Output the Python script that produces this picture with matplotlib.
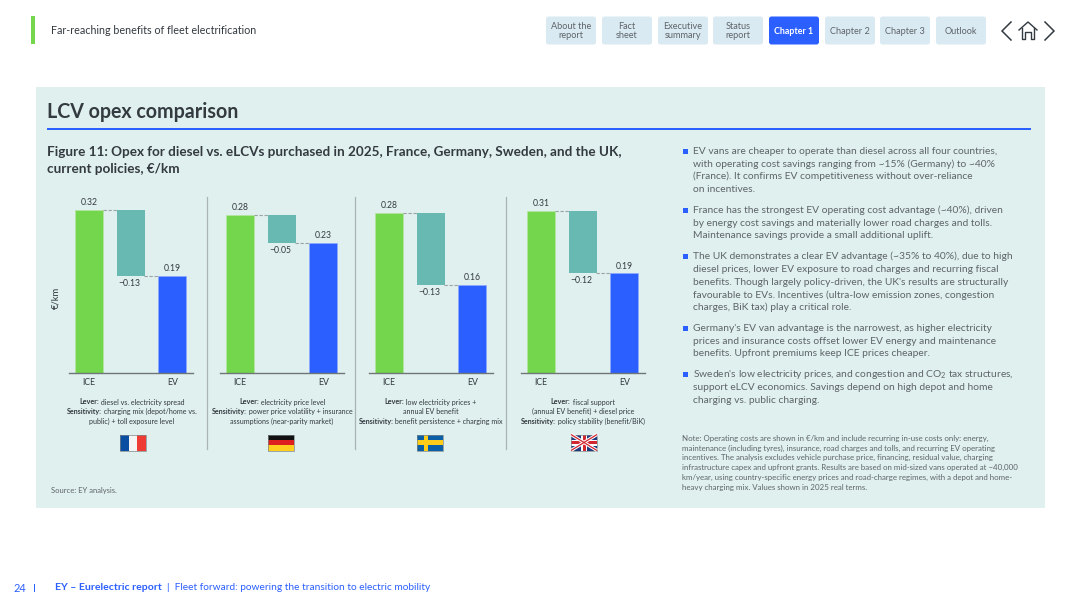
#!/usr/bin/env python3

import matplotlib
matplotlib.use('Agg')
import matplotlib.pyplot as plt
from matplotlib.patches import Rectangle, FancyBboxPatch

plt.rcParams['font.family'] = ['Lato', 'DejaVu Sans']
plt.rcParams['mathtext.fontset'] = 'custom'
plt.rcParams['mathtext.rm'] = 'Lato'

# ---- data
categories = ['ICE', 'EV']
ice_values = [0.32, 0.28, 0.283, 0.31]
delta_values = [-0.13, -0.05, -0.13, -0.12]
ev_values = [0.19, 0.23, 0.156, 0.19]
y_tops = [0.349, 0.3154, 0.315, 0.3397]   # each panel has its own scale in the original

lever_lines = [
    [[('Lever:', True), (' diesel vs. electricity spread', False)],
     [('Sensitivity:', True), (' charging mix (depot/home vs.', False)],
     [('public) + toll exposure level', False)]],
    [[('Lever:', True), (' electricity price level', False)],
     [('Sensitivity:', True), (' power price volatility + insurance', False)],
     [('assumptions (near-parity market)', False)]],
    [[('Lever:', True), (' low electricity prices +', False)],
     [('annual EV benefit', False)],
     [('Sensitivity:', True), (' benefit persistence + charging mix', False)]],
    [[('Lever:', True), (' fiscal support', False)],
     [('(annual EV benefit) + diesel price', False)],
     [('Sensitivity:', True), (' policy stability (benefit/BiK)', False)]],
]

nav_labels = ['About the\nreport', 'Fact\nsheet', 'Executive\nsummary', 'Status\nreport',
              'Chapter 1', 'Chapter 2', 'Chapter 3', 'Outlook']

bullets = [
    ['EV vans are cheaper to operate than diesel across all four countries,',
     'with operating cost savings ranging from ~15% (Germany) to ~40%',
     '(France). It confirms EV competitiveness without over-reliance',
     'on incentives.'],
    ['France has the strongest EV operating cost advantage (~40%), driven',
     'by energy cost savings and materially lower road charges and tolls.',
     'Maintenance savings provide a small additional uplift.'],
    ['The UK demonstrates a clear EV advantage (~35% to 40%), due to high',
     'diesel prices, lower EV exposure to road charges and recurring fiscal',
     "benefits. Though largely policy-driven, the UK's results are structurally",
     'favourable to EVs. Incentives (ultra-low emission zones, congestion',
     'charges, BiK tax) play a critical role.'],
    ["Germany's EV van advantage is the narrowest, as higher electricity",
     'prices and insurance costs offset lower EV energy and maintenance',
     'benefits. Upfront premiums keep ICE prices cheaper.'],
    ["Sweden's low electricity prices, and congestion and CO$_{2}$ tax structures,",
     'support eLCV economics. Savings depend on high depot and home',
     'charging vs. public charging.'],
]
bullet_tops = [151.3, 210.3, 256.7, 328.3, 374.7]

note_lines = [
    'Note: Operating costs are shown in €/km and include recurring in-use costs only: energy,',
    'maintenance (including tyres), insurance, road charges and tolls, and recurring EV operating',
    'incentives. The analysis excludes vehicle purchase price, financing, residual value, charging',
    'infrastructure capex and upfront grants. Results are based on mid-sized vans operated at ~40,000',
    'km/year, using country-specific energy prices and road-charge regimes, with a depot and home-',
    'heavy charging mix. Values shown in 2025 real terms.',
]

# ---- colours
GREEN = '#74D64C'
TEAL = '#68B9B2'
BLUE = '#2B5FFF'
PANEL = '#E0F0EF'
NAV = '#DAEAF2'
DARK = '#333A40'
GREY = '#5E6468'

W, H = 1080, 608
fig = plt.figure(figsize=(W / 100, H / 100), dpi=100, facecolor='white')
bg = fig.add_axes([0, 0, 1, 1])
bg.set_xlim(0, W)
bg.set_ylim(H, 0)
bg.axis('off')


def px(size):
    return size * 0.72


def rect(x0, y0, x1, y1, color, ax=bg, **kw):
    ax.add_patch(Rectangle((x0, y0), x1 - x0, y1 - y0, facecolor=color, edgecolor='none', **kw))


def mixed_line(xc, y, parts, size, color=DARK):
    # centred line with bold and regular runs
    rend = fig.canvas.get_renderer()
    widths = []
    for s, bold in parts:
        t = bg.text(0, 0, s.replace(' ', '\u00a0'), fontsize=size, fontweight='bold' if bold else 'normal')
        widths.append(t.get_window_extent(rend).width)
        t.remove()
    x = xc - sum(widths) / 2
    for (s, bold), w in zip(parts, widths):
        bg.text(x, y, s.replace(' ', '\u00a0'), fontsize=size, color=color,
                fontweight='bold' if bold else 'normal', va='center', ha='left')
        x += w


def flag_frame(x0, y0, x1, y1):
    bg.add_patch(Rectangle((x0, y0), x1 - x0, y1 - y0, fill=False, edgecolor='#7D8688', lw=0.5))


# ---- header
rect(31, 16, 35, 44, GREEN)
bg.text(51, 30, 'Far-reaching benefits of fleet electrification', fontsize=px(10.7), color=DARK, va='center')

nav_x = [546, 602, 658, 713, 769, 825, 880, 936]
for i, label in enumerate(nav_labels):
    active = label == 'Chapter 1'
    bg.add_patch(FancyBboxPatch((nav_x[i], 16.5), 50, 28, boxstyle='round,pad=0,rounding_size=2.5',
                                facecolor=BLUE if active else NAV, edgecolor='none'))
    bg.text(nav_x[i] + 25, 31, label, fontsize=px(8.9 if active else 9.2), ha='center', va='center',
            linespacing=1.05, color='white' if active else GREY, fontweight='bold' if active else 'normal')

# arrows and home icon
bg.plot([1011, 1002, 1011], [22, 31, 40], color=DARK, lw=1.1, solid_joinstyle='miter')
bg.plot([1045, 1054, 1045], [22, 31, 40], color=DARK, lw=1.1, solid_joinstyle='miter')
bg.plot([1019, 1028, 1037], [30, 22, 30], color=DARK, lw=1.0)
bg.plot([1021.5, 1021.5, 1025, 1025, 1030.5, 1030.5, 1034, 1034],
        [28, 39, 39, 32, 32, 39, 39, 28], color=DARK, lw=1.0)

# ---- panel
rect(36, 87, 1045, 508, PANEL)
bg.text(47, 111.5, 'LCV opex comparison', fontsize=px(19.6), fontweight='bold', color=DARK, va='center')
rect(47, 127.5, 1031, 130, BLUE)
bg.text(47, 152.5, 'Figure 11: Opex for diesel vs. eLCVs purchased in 2025, France, Germany, Sweden, and the UK,',
        fontsize=px(13.5), fontweight='bold', color=DARK, va='center')
bg.text(47, 169, 'current policies, €/km', fontsize=px(13.5), fontweight='bold', color=DARK, va='center')
bg.text(55.5, 298, '€/km', fontsize=px(9.5), color=DARK, rotation=90, ha='center', va='center')

# ---- the four waterfalls
ax_left = [68.5, 219.5, 368.5, 520.5]
lever_centres = [131.5, 282, 430.7, 582.7]
ax_width = 124.5
ax_top_px, ax_bottom_px = 195, 373
for i in range(4):
    ax = fig.add_axes([ax_left[i] / W, 1 - ax_bottom_px / H, ax_width / W, (ax_bottom_px - ax_top_px) / H])
    ax.patch.set_alpha(0)
    ax.set_xlim(-0.5, 2.5)
    ax.set_ylim(0, y_tops[i])
    ice, delta, ev = ice_values[i], delta_values[i], ev_values[i]
    ax.bar([0], [ice], width=0.67, color=GREEN, edgecolor='#B5E6A0', linewidth=0.5)
    ax.bar([1], [ice - ev], bottom=[ev], width=0.67, color=TEAL)
    ax.bar([2], [ev], width=0.67, color=BLUE, edgecolor='#8FA9FF', linewidth=0.5)
    ax.plot([0.33, 0.67], [ice, ice], color='#9AA5A5', lw=0.8, ls=(0, (3, 1.5)))
    ax.plot([1.33, 1.67], [ev, ev], color='#9AA5A5', lw=0.8, ls=(0, (3, 1.5)))
    ax.annotate(f'{ice:.2f}', (0, ice), xytext=(0, 2), textcoords='offset points', ha='center', va='bottom',
                fontsize=px(8.6), color=DARK)
    ax.annotate(f'{ev:.2f}', (2, ev), xytext=(0, 2), textcoords='offset points', ha='center', va='bottom',
                fontsize=px(8.6), color=DARK)
    ax.annotate(f'\u2212{abs(delta):.2f}', (1, ev), xytext=(-1, -2), textcoords='offset points', ha='center',
                va='top', fontsize=px(8.6), color=DARK)
    ax.set_xticks([0, 2], categories)
    ax.tick_params(axis='x', length=0, pad=3.5, labelsize=px(8.8), labelcolor=DARK)
    ax.set_yticks([])
    for side in ['top', 'left', 'right']:
        ax.spines[side].set_visible(False)
    ax.spines['bottom'].set_color('#6E7678')
    ax.spines['bottom'].set_linewidth(1.0)

    for j, parts in enumerate(lever_lines[i]):
        mixed_line(lever_centres[i], 402 + j * 9.6, parts, px(7.2))

# dividers
for x in [206.5, 355, 505.5]:
    bg.plot([x, x], [197, 449], color='#A9B4B4', lw=0.9)

# ---- flags
fy0, fy1 = 434.5, 450.5
# France
rect(120, fy0, 146, fy1, '#F4F4F4')
rect(120, fy0, 128.7, fy1, '#0A4EA2')
rect(137.3, fy0, 146, fy1, '#EE3B33')
flag_frame(120, fy0, 146, fy1)
# Germany
rect(268, fy0, 294, fy0 + 5.4, '#111111')
rect(268, fy0 + 5.4, 294, fy0 + 10.7, '#DD1F1F')
rect(268, fy0 + 10.7, 294, fy1, '#FFCE1F')
flag_frame(268, fy0, 294, fy1)
# Sweden
rect(417, fy0, 443, fy1, '#0A5FA6')
rect(424, fy0, 428.4, fy1, '#FFCC1A')
rect(417, fy0 + 5.8, 443, fy0 + 10.2, '#FFCC1A')
flag_frame(417, fy0, 443, fy1)
# UK
rect(571, fy0, 597, fy1, '#1F3A80')
bg.plot([571, 597], [fy0, fy1], color='white', lw=2.4, solid_capstyle='butt')
bg.plot([571, 597], [fy1, fy0], color='white', lw=2.4, solid_capstyle='butt')
bg.plot([571, 597], [fy0, fy1], color='#D22630', lw=0.9, solid_capstyle='butt')
bg.plot([571, 597], [fy1, fy0], color='#D22630', lw=0.9, solid_capstyle='butt')
rect(581, fy0, 587, fy1, 'white')
rect(571, fy0 + 5, 597, fy0 + 11, 'white')
rect(582.5, fy0, 585.5, fy1, '#D22630')
rect(571, fy0 + 6.5, 597, fy0 + 9.5, '#D22630')
flag_frame(571, fy0, 597, fy1)

bg.text(51, 491, 'Source: EY analysis.', fontsize=px(7.6), color=GREY, va='center')

# ---- right column
line_h = 12.7
for top, lines in zip(bullet_tops, bullets):
    rect(683, top - 2.5, 688, top + 2.5, BLUE)
    for j, line in enumerate(lines):
        bg.text(693, top + j * line_h, line, fontsize=px(10.3), color=GREY, va='center')

for j, line in enumerate(note_lines):
    bg.text(682.5, 438 + j * 9.95, line, fontsize=px(7.85), color=GREY, va='center')

# ---- footer
bg.text(13, 588, '24', fontsize=px(11), color=BLUE, va='center')
rect(34, 584, 35.2, 592, BLUE)
bg.text(55, 588, 'EY \u2013 Eurelectric report', fontsize=px(10.5), fontweight='bold', color=BLUE, va='center')
bg.text(167, 588, '|  Fleet forward: powering the transition to electric mobility', fontsize=px(10.1),
        color=BLUE, va='center')

fig.savefig('out.png', dpi=100)
